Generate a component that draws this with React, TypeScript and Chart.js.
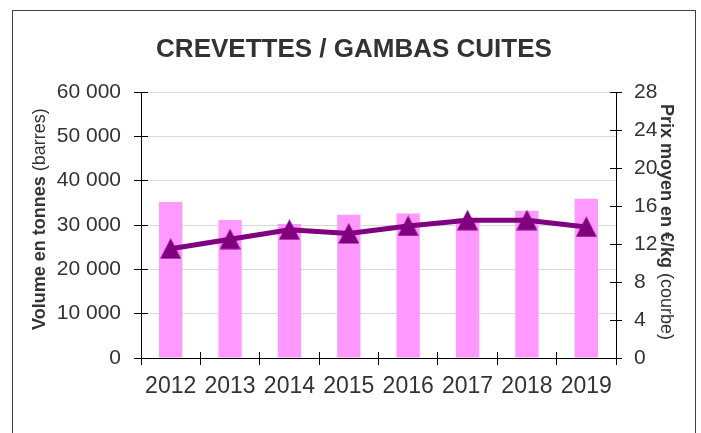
import React, { useEffect, useRef } from "react";
import { Chart, registerables } from "chart.js";

Chart.register(...registerables);

const years = ["2012", "2013", "2014", "2015", "2016", "2017", "2018", "2019"];
const volumes = [35200, 31100, 30200, 32300, 32600, 31500, 33200, 35900];
const prices = [11.5, 12.5, 13.5, 13.1, 13.9, 14.5, 14.5, 13.8];
const volumeTicks = [0, 10000, 20000, 30000, 40000, 50000, 60000];
const priceTicks = [0, 4, 8, 12, 16, 20, 24, 28];
const chartTitle = "CREVETTES / GAMBAS CUITES";
const leftTitleBold = "Volume en tonnes ";
const leftTitleNormal = "(barres)";
const rightTitleBold = "Prix moyen en €/kg ";
const rightTitleNormal = "(courbe)";

const FONT = '"Liberation Sans", Arial, sans-serif';
const TEXT = "#333333";
const BAR = "#FF99FF";
const LINE = "#800080";

const fmt = (v: number) => String(v).replace(/\B(?=(\d{3})+(?!\d))/g, " ");
const align = (p: number) => Math.round(p - 0.5) + 0.5;

function drawMixed(ctx: CanvasRenderingContext2D, bold: string, normal: string, size: number) {
  ctx.font = `bold ${size}px ${FONT}`;
  const wb = ctx.measureText(bold).width;
  ctx.fillText(bold, 0, 0);
  ctx.font = `${size}px ${FONT}`;
  ctx.fillText(normal, wb, 0);
}

const decor = {
  id: "decor",
  beforeDraw(chart: any) {
    const ctx = chart.ctx;
    ctx.save();
    ctx.fillStyle = "#ffffff";
    ctx.fillRect(0, 0, chart.width, chart.height);
    ctx.strokeStyle = "#404040";
    ctx.lineWidth = 1;
    ctx.strokeRect(12.5, 10.5, 683, 500);
    ctx.restore();
  },
  afterDraw(chart: any) {
    const ctx = chart.ctx;
    const { left, right, bottom } = chart.chartArea;
    ctx.save();
    ctx.strokeStyle = "#000000";
    ctx.lineWidth = 1;
    ctx.beginPath();
    const y = chart.scales.y;
    y.ticks.forEach((t: any) => {
      const py = align(y.getPixelForValue(t.value));
      ctx.moveTo(left, py);
      ctx.lineTo(left + 7, py);
    });
    const y1 = chart.scales.y1;
    y1.ticks.forEach((t: any) => {
      const py = align(y1.getPixelForValue(t.value));
      ctx.moveTo(right - 6, py);
      ctx.lineTo(right, py);
    });
    const x = chart.scales.x;
    const n = years.length;
    for (let i = 0; i <= n; i++) {
      let px;
      if (i === 0) px = left;
      else if (i === n) px = right;
      else px = (x.getPixelForValue(i - 1) + x.getPixelForValue(i)) / 2;
      px = align(px);
      ctx.moveTo(px, bottom - 6);
      ctx.lineTo(px, bottom);
    }
    ctx.stroke();

    // title
    ctx.fillStyle = TEXT;
    ctx.font = `bold 26px ${FONT}`;
    ctx.textAlign = "center";
    ctx.textBaseline = "alphabetic";
    ctx.fillText(chartTitle, 354, 57);

    // axis titles
    ctx.textAlign = "left";
    ctx.save();
    ctx.translate(44.5, 330);
    ctx.rotate(-Math.PI / 2);
    drawMixed(ctx, leftTitleBold, leftTitleNormal, 18);
    ctx.restore();

    ctx.save();
    ctx.translate(661, 104);
    ctx.rotate(Math.PI / 2);
    drawMixed(ctx, rightTitleBold, rightTitleNormal, 18);
    ctx.restore();

    ctx.restore();
  },
};

export default function App() {
  const ref = useRef<HTMLCanvasElement>(null);

  useEffect(() => {
    if (!ref.current) return;
    const tri = document.createElement("canvas");
    tri.width = 21;
    tri.height = 21;
    const tctx = tri.getContext("2d")!;
    tctx.fillStyle = LINE;
    tctx.beginPath();
    tctx.moveTo(10.5, 0);
    tctx.lineTo(21, 20.5);
    tctx.lineTo(0, 20.5);
    tctx.closePath();
    tctx.fill();

    const chart = new Chart(ref.current, {
      type: "bar",
      data: {
        labels: years,
        datasets: [
          {
            type: "line",
            label: "Prix",
            data: prices,
            yAxisID: "y1",
            borderColor: LINE,
            backgroundColor: LINE,
            borderWidth: 5,
            tension: 0,
            pointStyle: tri as any,
            pointRadius: 10,
            pointBorderWidth: 0,
            order: 0,
          } as any,
          {
            type: "bar",
            label: "Volume",
            data: volumes,
            yAxisID: "y",
            backgroundColor: BAR,
            borderWidth: 0,
            barPercentage: 0.393,
            categoryPercentage: 1,
            order: 1,
          },
        ],
      },
      options: {
        animation: false,
        responsive: false,
        devicePixelRatio: 1,
        layout: { padding: { top: 92, left: 0, right: 0, bottom: 0 } },
        plugins: {
          legend: { display: false },
          title: { display: false },
          tooltip: { enabled: false },
        },
        scales: {
          x: {
            type: "category",
            offset: true,
            grid: {
              offset: true,
              drawOnChartArea: false,
              drawTicks: true,
              tickLength: 7,
              color: "#000000",
              tickColor: "#000000",
            },
            border: { display: true, color: "#000000", width: 1 },
            ticks: {
              font: { family: FONT, size: 23 },
              color: TEXT,
              padding: 8,
              maxRotation: 0,
              autoSkip: false,
            },
            afterFit: (s: any) => {
              s.height = 75;
            },
          },
          y: {
            position: "left",
            min: 0,
            max: 60000,
            grid: {
              color: "#D9D9D9",
              tickColor: "#000000",
              tickLength: 7,
              lineWidth: 1,
            },
            border: { display: true, color: "#000000", width: 1 },
            ticks: {
              font: { family: FONT, size: 21 },
              color: TEXT,
              padding: 13,
              callback: (v: any) => fmt(Number(v)),
            },
            afterBuildTicks: (s: any) => {
              s.ticks = volumeTicks.map((v) => ({ value: v }));
            },
            afterFit: (s: any) => {
              s.width = 141;
            },
          },
          y1: {
            position: "right",
            min: 0,
            max: 28,
            grid: {
              drawOnChartArea: false,
              tickColor: "#000000",
              tickLength: 6,
            },
            border: { display: true, color: "#000000", width: 1 },
            ticks: {
              font: { family: FONT, size: 21 },
              color: TEXT,
              padding: 12,
            },
            afterBuildTicks: (s: any) => {
              s.ticks = priceTicks.map((v) => ({ value: v }));
            },
            afterFit: (s: any) => {
              s.width = 701 - 616;
            },
          },
        },
      },
      plugins: [decor],
    });
    return () => chart.destroy();
  }, []);

  return (
    <div style={{ position: "fixed", left: 0, top: 0, width: 701, height: 433, background: "#fff" }}>
      <canvas ref={ref} width={701} height={433} style={{ display: "block", width: 701, height: 433 }} />
    </div>
  );
}
